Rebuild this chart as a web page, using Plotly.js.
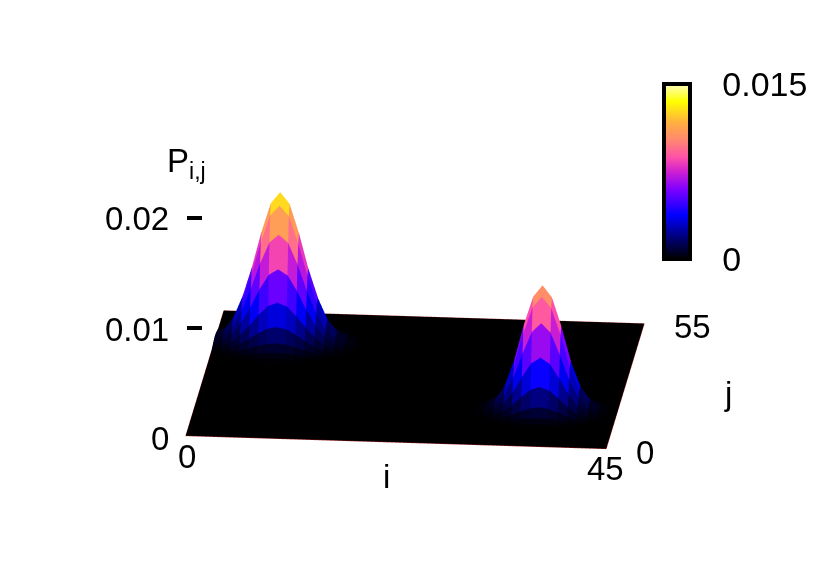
<!DOCTYPE html>
<html><head><meta charset="utf-8">
<script src="https://cdn.plot.ly/plotly-3.0.1.min.js"></script>
<style>html,body{margin:0;padding:0;background:#fff}#c{width:830px;height:581px}</style>
</head><body><div id="c"></div>
<script>
const iMax = 45, jMax = 55;
const peakAi0 = -1, peakAj0 = 33;
const peakBi0 = 29, peakBj0 = 8;
// probability values, unit 1e-5
const peakA = [
[0,0,0,0,1,2,3,4,5,4,3,2,1,0,0,0,0],
[0,0,1,3,5,8,12,15,16,15,12,8,5,3,1,0,0],
[0,1,3,8,15,24,35,44,47,44,35,24,15,8,3,1,0],
[1,3,8,18,35,58,84,106,114,106,84,58,35,18,8,3,1],
[2,7,17,39,75,123,178,224,241,224,178,123,75,39,17,7,2],
[4,13,31,71,137,225,327,411,442,411,327,225,137,71,31,13,4],
[7,22,51,116,224,369,536,673,724,673,536,369,224,116,51,22,7],
[10,31,71,163,316,519,753,947,1018,947,753,519,316,163,71,31,10],
[12,37,87,199,386,635,922,1170,1262,1170,922,635,386,199,87,37,12],
[13,40,94,214,415,683,1000,1262,1365,1262,1000,683,415,214,94,40,13],
[12,37,87,199,386,635,922,1170,1262,1170,922,635,386,199,87,37,12],
[10,31,71,163,316,519,753,947,1018,947,753,519,316,163,71,31,10],
[7,22,51,116,224,369,536,673,724,673,536,369,224,116,51,22,7],
[4,13,31,71,137,225,327,411,442,411,327,225,137,71,31,13,4],
[2,7,17,39,75,123,178,224,241,224,178,123,75,39,17,7,2],
[1,3,8,18,35,58,84,106,114,106,84,58,35,18,8,3,1],
[0,1,3,8,15,24,35,44,47,44,35,24,15,8,3,1,0]
];
const peakB = [
[0,0,0,0,0,1,2,3,5,3,2,1,0,0,0,0,0],
[0,0,0,1,3,6,11,14,16,14,11,6,3,1,0,0,0],
[0,0,1,4,10,20,34,46,51,46,34,20,10,4,1,0,0],
[0,1,3,10,25,50,85,116,129,116,85,50,25,10,3,1,0],
[0,2,7,22,56,114,193,264,293,264,193,114,56,22,7,2,0],
[1,3,13,40,102,210,355,484,538,484,355,210,102,40,13,3,1],
[1,5,20,62,158,324,548,748,831,748,548,324,158,62,20,5,1],
[1,6,26,81,204,420,710,950,1050,950,710,420,204,81,26,6,1],
[1,7,28,88,222,456,772,1028,1135,1028,772,456,222,88,28,7,1],
[1,6,26,81,204,420,710,950,1050,950,710,420,204,81,26,6,1],
[1,5,20,62,158,324,548,748,831,748,548,324,158,62,20,5,1],
[1,3,13,40,102,210,355,484,538,484,355,210,102,40,13,3,1],
[0,2,7,22,56,114,193,264,293,264,193,114,56,22,7,2,0],
[0,1,3,10,25,50,85,116,129,116,85,50,25,10,3,1,0],
[0,0,1,4,10,20,34,46,51,46,34,20,10,4,1,0,0],
[0,0,0,1,3,6,11,14,16,14,11,6,3,1,0,0,0],
[0,0,0,0,0,1,2,3,5,3,2,1,0,0,0,0,0]
];
const paletteStops = [0,0.1,0.25,0.4,0.5,0.58,0.68,0.78,0.9,1];
const paletteColors = ['#000000','#000060','#0000ff','#8000ff','#d020d0','#ff50a8','#ff8870','#ffb040','#ffff00','#ffffc0'];
const labels = [
 {t:'0.02',x:170,y:218,a:'right'},{t:'0.01',x:170,y:329,a:'right'},{t:'0',x:170,y:438,a:'right'},
 {t:'0',x:187,y:456,a:'center'},{t:'45',x:605,y:468,a:'center'},{t:'i',x:386,y:477,a:'center'},
 {t:'0',x:645,y:452,a:'center'},{t:'55',x:692,y:326,a:'center'},{t:'j',x:728,y:393,a:'center'},
 {t:'P<sub>i,j</sub>',x:166,y:163,a:'left'}
];
const tickYs = [218,328];

const Z = [];
for (let j=0;j<=jMax;j++){ Z.push(new Array(iMax+1).fill(0)); }
function place(t,i0,j0){ t.forEach((r,a)=>r.forEach((v,b)=>{ if(i0+b>=0&&i0+b<=iMax&&j0+a>=0&&j0+a<=jMax) Z[j0+a][i0+b]=v*1e-5; })); }
place(peakA,peakAi0,peakAj0); place(peakB,peakBi0,peakBj0);

const X=[],Y=[],W=[],I=[],J=[],K=[],C=[];
const id=(i,j)=>j*(iMax+1)+i;
for(let j=0;j<=jMax;j++)for(let i=0;i<=iMax;i++){X.push(i);Y.push(j);W.push(Z[j][i]);}
for(let j=0;j<jMax;j++)for(let i=0;i<iMax;i++){
  const m=(Z[j][i]+Z[j][i+1]+Z[j+1][i]+Z[j+1][i+1])/4;
  I.push(id(i,j),id(i,j));J.push(id(i+1,j),id(i+1,j+1));K.push(id(i+1,j+1),id(i,j+1));
  C.push(m,m);
}
const colorscale=paletteStops.map((s,n)=>[s,paletteColors[n]]);
const W0=830,H0=581;
const mesh={type:'mesh3d',x:X,y:Y,z:W,i:I,j:J,k:K,intensity:C,intensitymode:'cell',flatshading:true,
 colorscale,cmin:0,cmax:0.015,hoverinfo:'skip',
 lighting:{ambient:1,diffuse:0,specular:0,roughness:1,fresnel:0},
 colorbar:{x:664/W0,xanchor:'left',y:1-84/H0,yanchor:'top',xpad:0,ypad:0,thicknessmode:'pixels',thickness:26,
  lenmode:'pixels',len:175,outlinewidth:4,outlinecolor:'#000',
  tickmode:'array',tickvals:[0,0.015],ticktext:['0','0.015'],ticks:'outside',ticklen:24,tickcolor:'rgba(0,0,0,0)',
  tickfont:{family:'Liberation Sans',size:34,color:'#000'}}};
const floor={type:'mesh3d',x:[0,iMax,iMax,0],y:[0,0,jMax,jMax],z:[0,0,0,0],i:[0,0],j:[1,2],k:[2,3],color:'#000000',
 showscale:false,hoverinfo:'skip',lighting:{ambient:1,diffuse:0,specular:0,roughness:1,fresnel:0}};
const edge={type:'scatter3d',mode:'lines',x:[0,iMax,iMax,0,0],y:[0,0,jMax,jMax,0],z:[0,0,0,0,0],
 line:{color:'#901818',width:1},hoverinfo:'skip',showlegend:false};
const ax={showgrid:false,zeroline:false,showline:false,showticklabels:false,showbackground:false,showspikes:false,ticks:'',title:{text:''}};
const cx=414.5,cy=256,dw=760,dh=500;
const R=1;
const S=1.69;
const layout={width:W0,height:H0,margin:{l:0,r:0,t:0,b:0},paper_bgcolor:'#ffffff',showlegend:false,
 font:{family:'Liberation Sans',size:33,color:'#000'},
 scene:{domain:{x:[(cx-dw/2)/W0,(cx+dw/2)/W0],y:[1-(cy+dh/2)/H0,1-(cy-dh/2)/H0]},
  aspectmode:'manual',aspectratio:{x:1*S,y:0.934*S,z:0.618*S},
  xaxis:Object.assign({range:[0,iMax]},ax),yaxis:Object.assign({range:[0,jMax]},ax),zaxis:Object.assign({range:[0,0.0225]},ax),
  camera:{projection:{type:'orthographic'},up:{x:0,y:0,z:1},center:{x:0,y:0,z:0},eye:{x:0.0915*R,y:-0.944*R,z:0.319*R}}},
 annotations:labels.map(l=>({text:l.t,xref:'paper',yref:'paper',x:l.x/W0,y:1-l.y/H0,xanchor:l.a,yanchor:'middle',showarrow:false,borderpad:0,font:{family:'Liberation Sans',size:33,color:'#000'}})),
 shapes:tickYs.map(y=>({type:'line',xref:'paper',yref:'paper',x0:187/W0,x1:202/W0,y0:1-y/H0,y1:1-y/H0,line:{color:'#000',width:4}}))
};
Plotly.newPlot('c',[floor,mesh,edge],layout,{displayModeBar:false});
</script></body></html>
